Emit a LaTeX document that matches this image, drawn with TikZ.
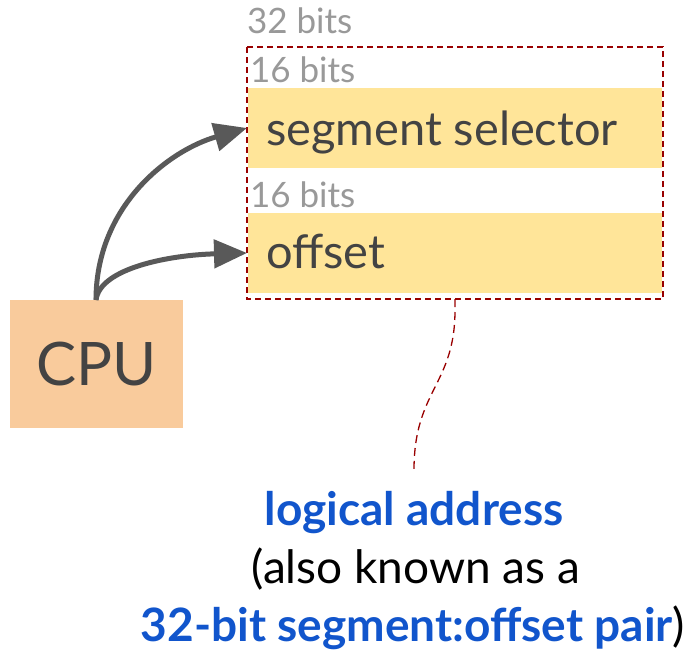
\documentclass[tikz,border=0pt]{standalone}
\usepackage{fontspec}
\setmainfont{Lato}
\usetikzlibrary{arrows.meta}
\definecolor{bandyellow}{HTML}{FFE599}
\definecolor{cpupeach}{HTML}{F9CB9C}
\definecolor{darktext}{HTML}{434343}
\definecolor{greytext}{HTML}{999999}
\definecolor{dashred}{HTML}{990000}
\definecolor{arrowgrey}{HTML}{595959}
\definecolor{linkblue}{HTML}{1155CC}
\begin{document}
\begin{tikzpicture}[x=1pt,y=-1pt,
  txt/.style={inner sep=0pt,outer sep=0pt,anchor=base west},
  bitlabel/.style={txt,text=greytext,font=\fontsize{35}{40}\selectfont},
  fieldlabel/.style={txt,text=darktext,font=\fontsize{47}{52}\selectfont},
  band/.style={fill=bandyellow,draw=none,minimum width=414pt,minimum height=80pt,inner sep=0pt,outer sep=0pt},
  cpuarrow/.style={draw=arrowgrey,line width=5pt,-{Triangle[length=33pt,width=28pt]}},
  groupbox/.style={draw=dashred,line width=1.6pt,dash pattern=on 6pt off 4pt},
  leader/.style={draw=dashred,line width=1.3pt,dash pattern=on 8pt off 5pt},
  caption/.style={inner sep=0pt,anchor=base,font=\fontsize{46}{52}\selectfont}
]
\useasboundingbox (0,0) rectangle (691,653);

% bands
\node[band] (seg) at (455,128) {};
\node[band] (off) at (455,253) {};

% dashed group
\draw[groupbox] (247,47) rectangle (663,299);
\coordinate (grpbot) at (455,299);

% labels
\node[bitlabel] (b32) at (247,33) {32 bits};
\node[bitlabel] (b16a) at (250,82) {16 bits};
\node[bitlabel] (b16b) at (250,207) {16 bits};
\node[fieldlabel] (segtxt) at (266,145) {segment selector};
\node[fieldlabel] (offtxt) at (266,268) {offset};

% CPU
\node[fill=cpupeach,minimum width=173pt,minimum height=128pt,inner sep=0pt,
      text=darktext,font=\fontsize{60}{66}\selectfont] (cpu) at (96.5,364) {CPU};
\coordinate (cputop) at (96,300);

% arrows
\draw[cpuarrow] (cputop) .. controls (96,205) and (170,150) .. ([xshift=-1pt]seg.west);
\draw[cpuarrow] (cputop) .. controls (100,268) and (170,255) .. ([xshift=-1pt]off.west);

% leader
\coordinate (capanchor) at (414,470);
\draw[leader] (grpbot) -- (455,310) .. controls (455,385) and (414,390) .. (capanchor);

% caption
\node[caption,text=linkblue,font=\fontsize{46}{52}\selectfont\bfseries] (cap1) at (414,525) {logical address};
\node[caption,text=black] (cap2) at (416,583) {(also known as a};
\node[caption] (cap3) at (413,641) {\textbf{\color{linkblue}32-bit segment:offset pair})};
\end{tikzpicture}
\end{document}
